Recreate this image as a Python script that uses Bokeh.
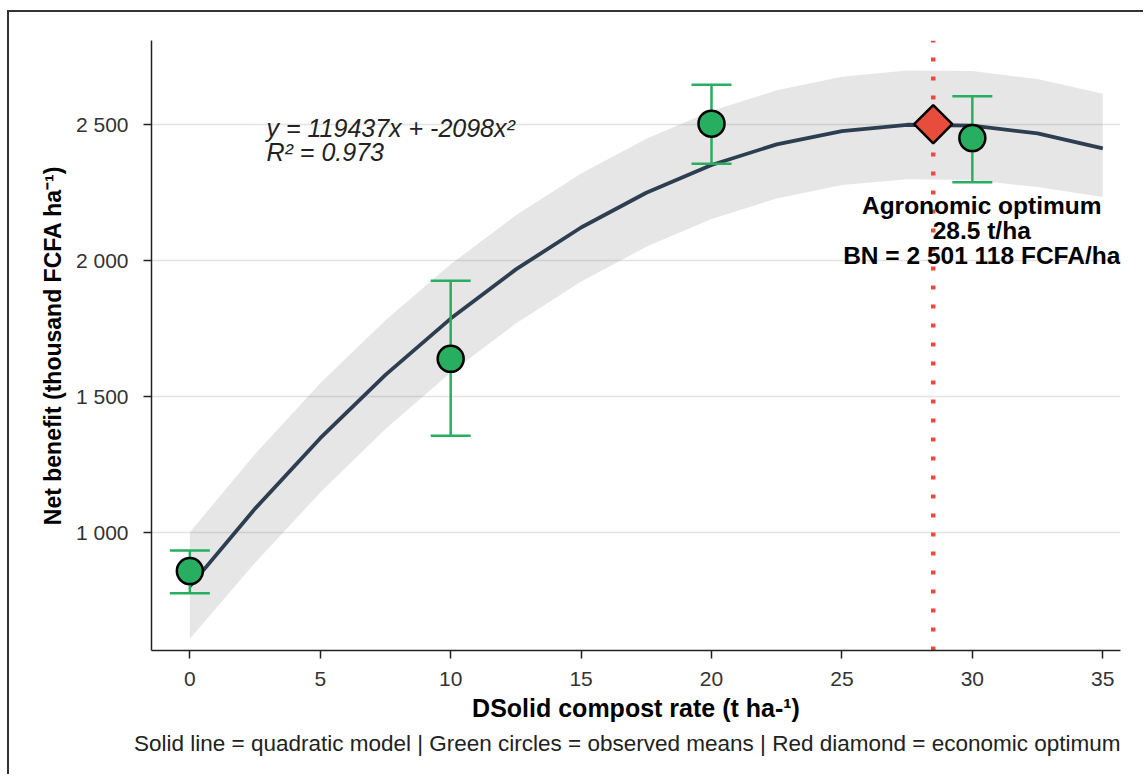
from bokeh.plotting import figure
from bokeh.models import ColumnDataSource, FixedTicker, Title, Range1d
from bokeh.embed import file_html
from bokeh.resources import INLINE
from bokeh.core.properties import value

# ---- data ----
rate = [0, 10, 20, 30]
mean_nb = [857, 1638, 2503, 2450]
err_lo = [776, 1355, 2356, 2288]
err_hi = [933, 1925, 2646, 2604]

fit_x = [0, 2.5, 5, 7.5, 10, 12.5, 15, 17.5, 20, 22.5, 25, 27.5, 30, 32.5, 35]
fit_y = [801, 1087, 1346, 1579, 1786, 1967, 2121, 2249, 2351, 2427, 2476, 2499, 2496, 2467, 2412]
band_hi = [1000, 1288, 1548, 1780, 1986, 2166, 2320, 2448, 2550, 2626, 2676, 2699, 2697, 2667, 2613]
band_lo = [608, 888, 1146, 1380, 1588, 1768, 1922, 2050, 2152, 2228, 2277, 2299, 2296, 2270, 2233]

opt_x = [28.5]
opt_y = [2501]

x_ticks = [0, 5, 10, 15, 20, 25, 30, 35]
y_ticks = [1000, 1500, 2000, 2500]
y_tick_labels = ["1 000", "1 500", "2 000", "2 500"]

eq_lines = ["y = 119437x + -2098x\u00b2", "R\u00b2 = 0.973"]
eq_x = [2.94, 2.94]
eq_y = [2486, 2397]

opt_lines = ["Agronomic optimum", "28.5 t/ha", "BN = 2 501 118 FCFA/ha"]
opt_lab_x = [30.36, 30.36, 30.36]
opt_lab_y = [2202, 2110, 2018]

caption = "Solid line = quadratic model | Green circles = observed means | Red diamond = economic optimum"

FONT = "Liberation Sans"
x_lo, x_hi = -1.47, 35.68
y_lo, y_hi = 565, 2809

p = figure(width=1136, height=764, output_backend="svg", toolbar_location=None,
           x_range=Range1d(x_lo, x_hi), y_range=Range1d(y_lo, y_hi),
           min_border_left=142, min_border_right=25, min_border_top=28, min_border_bottom=126)
p.outline_line_color = None
p.background_fill_color = "white"
p.border_fill_color = "white"
p.margin = (10, 0, 0, 7)
p.styles = {"border-left": "2px solid #333333", "border-top": "2px solid #333333"}

# ribbon
p.varea(x=fit_x, y1=band_lo, y2=band_hi, fill_color="#808080", fill_alpha=0.2)
# fitted curve
p.line(fit_x, fit_y, line_color="#2c3e50", line_width=3.8)
# optimum vertical dotted line
p.segment(x0=opt_x, y0=[y_lo], x1=opt_x, y1=[y_hi], line_color="#e74c3c", line_width=4.5,
          line_dash=value("4 15"))

# error bars
src = ColumnDataSource(dict(x=rate, m=mean_nb, lo=err_lo, hi=err_hi))
p.segment(x0="x", y0="lo", x1="x", y1="hi", source=src, line_color="#27ae60", line_width=2.5)
p.scatter(x="x", y="lo", source=src, marker="dash", size=40, line_color="#27ae60", line_width=2.5)
p.scatter(x="x", y="hi", source=src, marker="dash", size=40, line_color="#27ae60", line_width=2.5)
# observed means
p.scatter(x="x", y="m", source=src, marker="circle", size=26, fill_color="#27ae60",
          line_color="black", line_width=2.5)
# optimum diamond
p.scatter(x=opt_x, y=opt_y, marker="square", angle=0.7853981634, size=27,
          fill_color="#e74c3c", line_color="black", line_width=2.5)

# equation text
p.text(x=eq_x, y=eq_y, text=eq_lines, text_font=value(FONT), text_font_size="25px",
       text_font_style="italic", text_color="#222222", text_baseline="middle", text_align="left")
# optimum annotation
p.text(x=opt_lab_x, y=opt_lab_y, text=opt_lines, text_font=value(FONT), text_font_size="24.5px",
       text_font_style="bold", text_color="black", text_baseline="middle", text_align="center")

# axes
p.xaxis.ticker = FixedTicker(ticks=x_ticks)
p.yaxis.ticker = FixedTicker(ticks=y_ticks)
p.yaxis.major_label_overrides = {t: l for t, l in zip(y_ticks, y_tick_labels)}
for ax in (p.xaxis, p.yaxis):
    ax.axis_line_color = "#222222"
    ax.axis_line_width = 1.5
    ax.major_tick_line_color = "#222222"
    ax.major_tick_line_width = 1.5
    ax.major_tick_in = 0
    ax.major_tick_out = 8
    ax.minor_tick_line_color = None
    ax.major_label_text_font = FONT
    ax.major_label_text_font_size = "21px"
    ax.major_label_text_color = "#333333"
    ax.axis_label_text_font = FONT
    ax.axis_label_text_font_style = "bold"
    ax.axis_label_text_color = "black"

p.xaxis.axis_label = "DSolid compost rate (t ha-\u00b9)"
p.yaxis.axis_label = "Net benefit (thousand FCFA ha\u207b\u00b9)"
p.xaxis.axis_label_text_font_size = "25px"
p.yaxis.axis_label_text_font_size = "23px"
p.yaxis.major_label_standoff = 15
p.yaxis.axis_label_standoff = 7
p.xaxis.major_label_standoff = 13
p.xaxis.axis_label_standoff = 5

p.xgrid.grid_line_color = None
p.ygrid.grid_line_color = "#e3e3e3"
p.ygrid.grid_line_width = 1.5

p.add_layout(Title(text=caption, align="right", text_font=FONT, text_font_size="22.5px",
                   text_font_style="normal", text_color="#222222", standoff=9), "below")

open("out.html", "w").write(file_html(p, INLINE))
